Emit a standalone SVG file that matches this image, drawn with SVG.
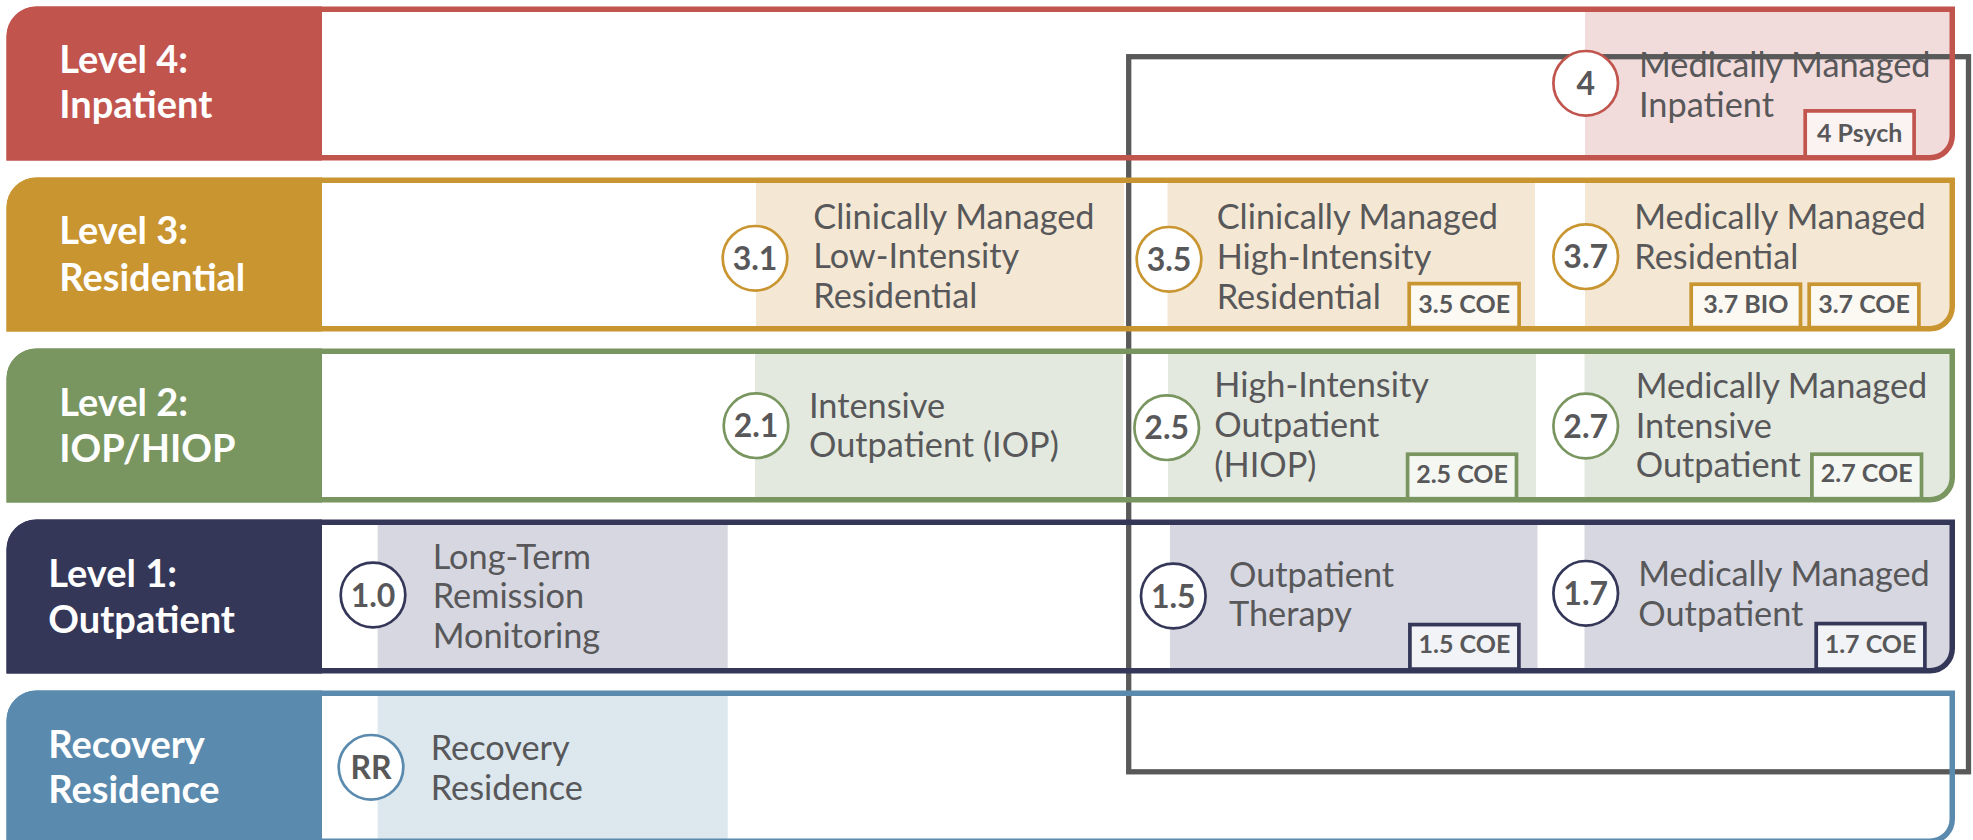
<svg xmlns="http://www.w3.org/2000/svg" xmlns:xlink="http://www.w3.org/1999/xlink" width="1973" height="840" viewBox="0 0 1973 840">
<style>
.lvl{font-family:Lato,'Liberation Sans',sans-serif;font-weight:700;font-size:38px;fill:#ffffff}
.t{font-family:Lato,'Liberation Sans',sans-serif;font-size:34.3px;fill:#58585a}
.num{font-family:Lato,'Liberation Sans',sans-serif;font-weight:700;font-size:32px;fill:#58585a;text-anchor:middle}
.bt{font-family:Lato,'Liberation Sans',sans-serif;font-weight:700;font-size:25px;fill:#58585a;text-anchor:middle}
.circ{fill:#ffffff;stroke-width:2.7}
.badge{stroke-width:3.7}
.border{fill:none;stroke-width:5.5}
.red{stroke:#c1554e}.gold{stroke:#c99530}.green{stroke:#7a9660}.navy{stroke:#343758}.blue{stroke:#5a8aae}
</style>
<defs>
<path id="p4" d="M9.25,36.5 A27.25,27.25 0 0 1 36.5,9.25 H1952.25 V135.5 A22.25,22.25 0 0 1 1930,157.75 H9.25 Z"/>
<path id="p3" d="M9.25,207.5 A27.25,27.25 0 0 1 36.5,180.25 H1952.25 V306.5 A22.25,22.25 0 0 1 1930,328.75 H9.25 Z"/>
<path id="p2" d="M9.25,378.5 A27.25,27.25 0 0 1 36.5,351.25 H1952.25 V477.5 A22.25,22.25 0 0 1 1930,499.75 H9.25 Z"/>
<path id="p1" d="M9.25,549.5 A27.25,27.25 0 0 1 36.5,522.25 H1952.25 V648.5 A22.25,22.25 0 0 1 1930,670.75 H9.25 Z"/>
<path id="pR" d="M9.25,720.5 A27.25,27.25 0 0 1 36.5,693.25 H1952.25 V819 A22.25,22.25 0 0 1 1930,841.25 H9.25 Z"/>
<clipPath id="c4"><use xlink:href="#p4"/></clipPath>
<clipPath id="c3"><use xlink:href="#p3"/></clipPath>
<clipPath id="c2"><use xlink:href="#p2"/></clipPath>
<clipPath id="c1"><use xlink:href="#p1"/></clipPath>
<clipPath id="cR"><use xlink:href="#pR"/></clipPath>
</defs>

<g id="bands">
<g id="band-level4">
<use xlink:href="#p4" fill="#ffffff"/>
<path d="M6.5,36.5 A30,30 0 0 1 36.5,6.5 H322 V160.5 H6.5 Z" fill="#c1554e"/>
<g clip-path="url(#c4)"><rect x="1585" y="6" width="380" height="160" fill="#f2dcdb"/></g>
</g>
<g id="band-level3">
<use xlink:href="#p3" fill="#ffffff"/>
<path d="M6.5,207.5 A30,30 0 0 1 36.5,177.5 H322 V331.5 H6.5 Z" fill="#c99530"/>
<g clip-path="url(#c3)" fill="#f4e8d4">
<rect x="756" y="177" width="368" height="155"/>
<rect x="1167.5" y="177" width="367.5" height="155"/>
<rect x="1585" y="177" width="380" height="155"/>
</g>
</g>
<g id="band-level2">
<use xlink:href="#p2" fill="#ffffff"/>
<path d="M6.5,378.5 A30,30 0 0 1 36.5,348.5 H322 V502.5 H6.5 Z" fill="#7a9660"/>
<g clip-path="url(#c2)" fill="#e4e9df">
<rect x="755" y="348" width="368" height="155"/>
<rect x="1168" y="348" width="368" height="155"/>
<rect x="1584.5" y="348" width="380" height="155"/>
</g>
</g>
<g id="band-level1">
<use xlink:href="#p1" fill="#ffffff"/>
<path d="M6.5,549.5 A30,30 0 0 1 36.5,519.5 H322 V673.5 H6.5 Z" fill="#343758"/>
<g clip-path="url(#c1)" fill="#d6d7e0">
<rect x="377.7" y="519" width="350" height="155"/>
<rect x="1170" y="519" width="367.5" height="155"/>
<rect x="1584.5" y="519" width="380" height="155"/>
</g>
</g>
<g id="band-recovery">
<use xlink:href="#pR" fill="#ffffff"/>
<path d="M6.5,720.5 A30,30 0 0 1 36.5,690.5 H322 V844 H6.5 Z" fill="#5a8aae"/>
<g clip-path="url(#cR)" fill="#dce7ee">
<rect x="377.7" y="690" width="350" height="155"/>
</g>
</g>
</g>

<g id="frame">
<rect x="1128.7" y="56.7" width="839.8" height="715.1" fill="none" stroke="#595959" stroke-width="5.3"/>
</g>

<g id="band-borders">
<use xlink:href="#p4" class="border red"/>
<use xlink:href="#p3" class="border gold"/>
<use xlink:href="#p2" class="border green"/>
<use xlink:href="#p1" class="border navy"/>
<use xlink:href="#pR" class="border blue"/>
</g>

<g id="level-labels">
<g id="label-level4"><text class="lvl" x="59.3" y="73.3">Level 4:</text><text class="lvl" x="59.3" y="118.3">Inpatient</text></g>
<g id="label-level3"><text class="lvl" x="59.3" y="244.3">Level 3:</text><text class="lvl" x="59.3" y="290.7">Residential</text></g>
<g id="label-level2"><text class="lvl" x="59.3" y="416">Level 2:</text><text class="lvl" x="59.3" y="461.7">IOP/HIOP</text></g>
<g id="label-level1"><text class="lvl" x="48.3" y="586.7">Level 1:</text><text class="lvl" x="48.3" y="632.7">Outpatient</text></g>
<g id="label-recovery"><text class="lvl" x="48.3" y="757.7">Recovery</text><text class="lvl" x="48.3" y="802.7">Residence</text></g>
</g>

<g id="connectors"></g>

<g id="node-4">
<circle class="circ red" cx="1585.7" cy="83.3" r="32.3"/>
<text class="num" x="1585.7" y="94.8">4</text>
<text class="t" x="1639" y="76.7">Medically Managed</text>
<text class="t" x="1639" y="116.7">Inpatient</text>
<rect class="badge red" x="1805.2" y="110.9" width="108.9" height="46" fill="#faf3f2"/>
<text class="bt" x="1859.7" y="141.7">4 Psych</text>
</g>

<g id="node-3-1">
<circle class="circ gold" cx="755" cy="258.3" r="32.3"/>
<text class="num" x="755" y="269.8">3.1</text>
<text class="t" x="813.3" y="229">Clinically Managed</text>
<text class="t" x="813.3" y="268.3">Low-Intensity</text>
<text class="t" x="813.3" y="308.3">Residential</text>
</g>

<g id="node-3-5">
<circle class="circ gold" cx="1169" cy="259.3" r="32.3"/>
<text class="num" x="1169" y="270.8">3.5</text>
<text class="t" x="1216.7" y="229.3">Clinically Managed</text>
<text class="t" x="1216.7" y="269.3">High-Intensity</text>
<text class="t" x="1216.7" y="309.3">Residential</text>
<rect class="badge gold" x="1409.2" y="283.6" width="109.9" height="44" fill="#fcf9f2"/>
<text class="bt" x="1464.2" y="313.3">3.5 COE</text>
</g>

<g id="node-3-7">
<circle class="circ gold" cx="1585.7" cy="256.7" r="32.3"/>
<text class="num" x="1585.7" y="268.2">3.7</text>
<text class="t" x="1634.3" y="229.3">Medically Managed</text>
<text class="t" x="1634.3" y="269.3">Residential</text>
<rect class="badge gold" x="1691.2" y="284.2" width="109.3" height="43.4" fill="#fcf9f2"/>
<text class="bt" x="1745.8" y="313.3">3.7 BIO</text>
<rect class="badge gold" x="1809.2" y="284.2" width="109.7" height="43.4" fill="#fcf9f2"/>
<text class="bt" x="1864" y="313.3">3.7 COE</text>
</g>

<g id="node-2-1">
<circle class="circ green" cx="756" cy="425.7" r="32.3"/>
<text class="num" x="756" y="437.2">2.1</text>
<text class="t" x="809" y="418.3">Intensive</text>
<text class="t" x="809" y="456.7">Outpatient (IOP)</text>
</g>

<g id="node-2-5">
<circle class="circ green" cx="1166.7" cy="427.7" r="32.3"/>
<text class="num" x="1166.7" y="439.2">2.5</text>
<text class="t" x="1214.3" y="397.3">High-Intensity</text>
<text class="t" x="1214.3" y="437.3">Outpatient</text>
<text class="t" x="1214.3" y="476.7">(HIOP)</text>
<rect class="badge green" x="1407.6" y="454.2" width="108.9" height="44.5" fill="#f5f7f3"/>
<text class="bt" x="1462" y="482.7">2.5 COE</text>
</g>

<g id="node-2-7">
<circle class="circ green" cx="1585.7" cy="426" r="32.3"/>
<text class="num" x="1585.7" y="437.5">2.7</text>
<text class="t" x="1635.7" y="397.7">Medically Managed</text>
<text class="t" x="1635.7" y="437.7">Intensive</text>
<text class="t" x="1635.7" y="477.3">Outpatient</text>
<rect class="badge green" x="1811.9" y="454.2" width="109.6" height="44.5" fill="#f5f7f3"/>
<text class="bt" x="1866.7" y="481.7">2.7 COE</text>
</g>

<g id="node-1-0">
<circle class="circ navy" cx="373" cy="595" r="32.3"/>
<text class="num" x="373" y="606.5">1.0</text>
<text class="t" x="432.7" y="569">Long-Term</text>
<text class="t" x="432.7" y="608.3">Remission</text>
<text class="t" x="432.7" y="647.7">Monitoring</text>
</g>

<g id="node-1-5">
<circle class="circ navy" cx="1173.3" cy="596" r="32.3"/>
<text class="num" x="1173.3" y="607.5">1.5</text>
<text class="t" x="1229" y="586.7">Outpatient</text>
<text class="t" x="1229" y="626">Therapy</text>
<rect class="badge navy" x="1409.9" y="624.6" width="109" height="44.5" fill="#f2f3f6"/>
<text class="bt" x="1464.4" y="653.3">1.5 COE</text>
</g>

<g id="node-1-7">
<circle class="circ navy" cx="1585.7" cy="593.3" r="32.3"/>
<text class="num" x="1585.7" y="604.8">1.7</text>
<text class="t" x="1638.3" y="586">Medically Managed</text>
<text class="t" x="1638.3" y="626">Outpatient</text>
<rect class="badge navy" x="1816.2" y="623.6" width="108.7" height="45.5" fill="#f2f3f6"/>
<text class="bt" x="1870.5" y="653.3">1.7 COE</text>
</g>

<g id="node-rr">
<circle class="circ blue" cx="371" cy="767.3" r="32.3"/>
<text class="num" x="371" y="778.8">RR</text>
<text class="t" x="430.7" y="760">Recovery</text>
<text class="t" x="430.7" y="800">Residence</text>
</g>
</svg>
